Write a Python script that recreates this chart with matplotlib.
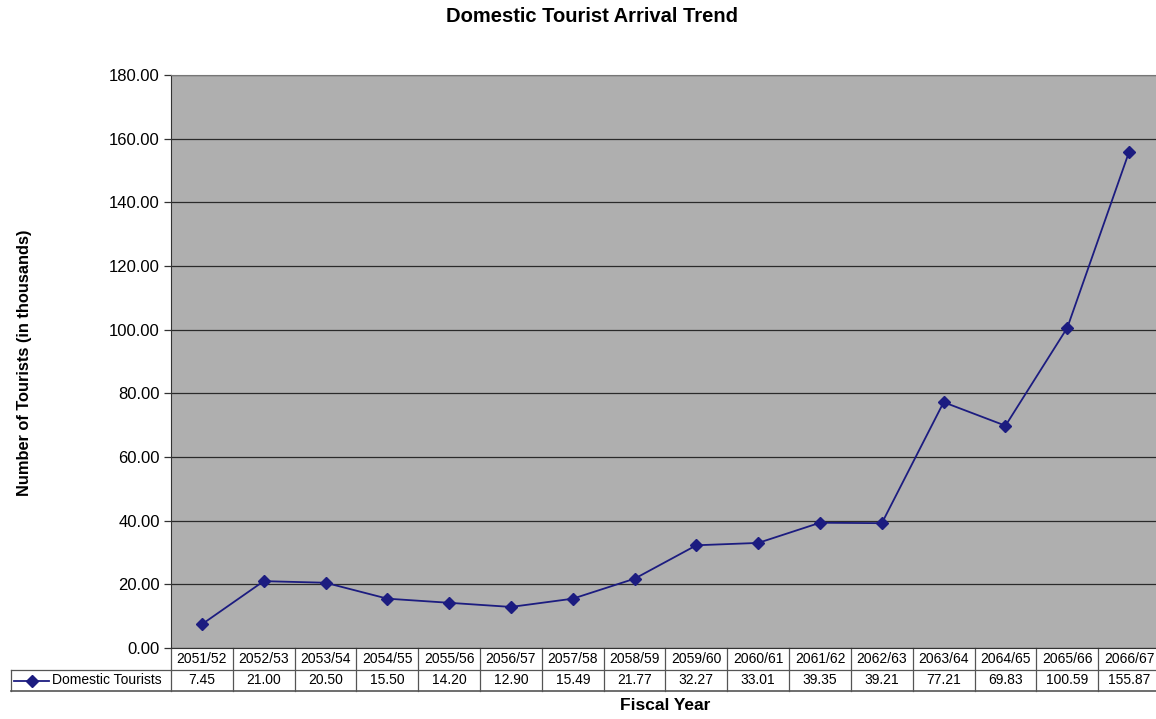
import matplotlib.pyplot as plt
import numpy as np
from matplotlib.lines import Line2D
from matplotlib.transforms import blended_transform_factory

plt.rcParams['font.family'] = ['Liberation Sans', 'DejaVu Sans']

# data
years = ["2051/52", "2052/53", "2053/54", "2054/55", "2055/56", "2056/57",
         "2057/58", "2058/59", "2059/60", "2060/61", "2061/62", "2062/63",
         "2063/64", "2064/65", "2065/66", "2066/67"]
tourists = [7.45, 21.00, 20.50, 15.50, 14.20, 12.90, 15.49, 21.77,
            32.27, 33.01, 39.35, 39.21, 77.21, 69.83, 100.59, 155.87]
yticks = [0, 20, 40, 60, 80, 100, 120, 140, 160, 180]

W, H = 1156, 719
L, R = 171, 1160
fig = plt.figure(figsize=(W / 100, H / 100), dpi=100)
ax = fig.add_axes([L / W, (H - 648) / H, (R - L) / W, (648 - 75) / H])
colw = (R - L) / len(years)

def px2x(p):
    # figure pixel -> data x
    return (p - L) / colw - 0.5

navy = '#1c1c80'
x = np.arange(len(years))
ax.set_facecolor('#afafaf')
ax.plot(x, tourists, color=navy, lw=1.3, marker='D', ms=6, zorder=3)

ax.set_xlim(-0.5, len(years) - 0.5)
ax.set_ylim(0, 180)
ax.set_yticks(yticks)
ax.set_yticklabels(['%.2f' % v for v in yticks], fontsize=12)
ax.yaxis.grid(True, color='#2a2a2a', lw=0.9)
ax.set_axisbelow(True)
ax.set_xticks([])
ax.tick_params(axis='y', length=5, width=0.9, color='#333333', pad=3)
ax.spines['right'].set_visible(False)
ax.spines['top'].set_color('#777777')
ax.spines['left'].set_color('#333333')
ax.spines['bottom'].set_color('#333333')

# data table under the axis
tr = blended_transform_factory(ax.transData, ax.transAxes)
axh = 648 - 75
r1 = -22 / axh
r2 = -43 / axh
lc = '#555555'
leg_left = px2x(11)
for k in range(len(years) + 1):
    xe = k - 0.5
    ax.add_line(Line2D([xe, xe], [0, r2], transform=tr, color=lc, lw=0.9, clip_on=False))
ax.add_line(Line2D([-0.5, len(years) - 0.5], [r1, r1], transform=tr, color=lc, lw=0.9, clip_on=False))
ax.add_line(Line2D([leg_left, len(years) - 0.5], [r2, r2], transform=tr, color=lc, lw=1.2, clip_on=False))
ax.add_line(Line2D([leg_left, -0.5], [r1, r1], transform=tr, color=lc, lw=0.9, clip_on=False))
ax.add_line(Line2D([leg_left, leg_left], [r1, r2], transform=tr, color=lc, lw=0.9, clip_on=False))
for i, (yr, v) in enumerate(zip(years, tourists)):
    ax.text(i, r1 / 2, yr, transform=tr, ha='center', va='center', fontsize=10)
    ax.text(i, (r1 + r2) / 2, '%.2f' % v, transform=tr, ha='center', va='center', fontsize=10)

# legend key in table
ym = (r1 + r2) / 2
sx, ex = px2x(14), px2x(49)
ax.add_line(Line2D([sx, ex], [ym, ym], transform=tr, color=navy, lw=1.3, clip_on=False))
ax.add_line(Line2D([(sx + ex) / 2], [ym], transform=tr, color=navy, marker='D', ms=6, clip_on=False))
ax.text(px2x(52), ym, 'Domestic Tourists', transform=tr,
        ha='left', va='center', fontsize=10)

fig.text(592 / W, 1 - 16 / H, 'Domestic Tourist Arrival Trend', ha='center', va='center',
         fontsize=14.5, fontweight='bold')
fig.text(665 / W, 1 - 706 / H, 'Fiscal Year', ha='center', va='center',
         fontsize=12.5, fontweight='bold')
fig.text(25 / W, 1 - 363 / H, 'Number of Tourists (in thousands)', ha='center', va='center',
         rotation=90, fontsize=11.8, fontweight='bold')

fig.savefig('out.png', dpi=100)
